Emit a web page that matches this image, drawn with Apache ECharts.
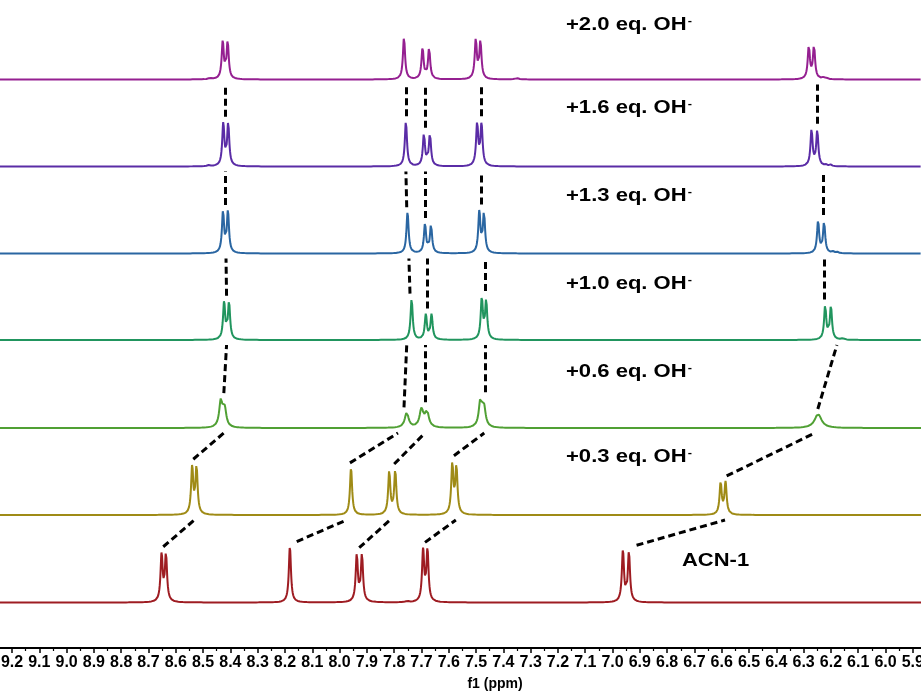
<!DOCTYPE html>
<html>
<head>
<meta charset="utf-8">
<script src="https://cdn.jsdelivr.net/npm/echarts@6/dist/echarts.min.js"></script>
<style>html,body{margin:0;padding:0;background:#fff;}#c{width:921px;height:691px;}</style>
</head>
<body>
<div id="c"></div>
<script>
// ---------- axis tick labels (ppm) ----------
const majorTicks = [9.2, 9.1, 9.0, 8.9, 8.8, 8.7, 8.6, 8.5, 8.4, 8.3, 8.2, 8.1, 8.0, 7.9, 7.8, 7.7, 7.6, 7.5, 7.4, 7.3, 7.2, 7.1, 7.0, 6.9, 6.8, 6.7, 6.6, 6.5, 6.4, 6.3, 6.2, 6.1, 6.0, 5.9];
const minorTicks = [9.15, 9.05, 8.95, 8.85, 8.75, 8.65, 8.55, 8.45, 8.35, 8.25, 8.15, 8.05, 7.95, 7.85, 7.75, 7.65, 7.55, 7.45, 7.35, 7.25, 7.15, 7.05, 6.95, 6.85, 6.75, 6.65, 6.55, 6.45, 6.35, 6.25, 6.15, 6.05, 5.95];

// ---------- spectra (bottom to top) ----------
const spectrumNames = ['ACN-1', '+0.3 eq. OH', '+0.6 eq. OH', '+1.0 eq. OH', '+1.3 eq. OH', '+1.6 eq. OH', '+2.0 eq. OH'];

// peak tables: [shift ppm, intensity, half width ppm]
const peaksACN1 = [
  [8.652, 47, 0.0047], [8.636, 47, 0.0047],
  [8.182, 56, 0.0047],
  [7.937, 47, 0.0047], [7.918, 47, 0.0047],
  [7.694, 51, 0.0047], [7.678, 51, 0.0047],
  [6.962, 51, 0.0047], [6.940, 50, 0.0047],
  [7.752, 1, 0.006]
];
const peaksEq03 = [
  [8.540, 47, 0.0047], [8.524, 47, 0.0047],
  [7.958, 47, 0.0047],
  [7.818, 43, 0.0047], [7.796, 44, 0.0047],
  [7.587, 50, 0.0047], [7.572, 47, 0.0047],
  [6.604, 32, 0.0047], [6.586, 32, 0.0047]
];
const peaksEq06 = [
  [8.435, 26, 0.0072], [8.421, 18, 0.0072],
  [7.754, 15, 0.0085],
  [7.700, 18, 0.0082], [7.680, 16, 0.0082],
  [7.484, 26, 0.0072], [7.471, 19, 0.0072],
  [6.247, 14, 0.015]
];
const peaksEq10 = [
  [8.423, 37, 0.0047], [8.405, 37, 0.0047],
  [7.736, 41, 0.0047],
  [7.684, 25, 0.0047], [7.663, 25, 0.0047],
  [7.479, 41, 0.0047], [7.463, 38, 0.0047],
  [6.221, 34, 0.0047], [6.200, 33, 0.0047],
  [6.156, 1.5, 0.006]
];
const peaksEq13 = [
  [8.427, 41, 0.0047], [8.409, 41, 0.0047],
  [7.751, 41, 0.0047],
  [7.687, 29, 0.0047], [7.665, 28, 0.0047],
  [7.488, 41, 0.0047], [7.471, 40, 0.0047],
  [6.247, 32, 0.0047], [6.225, 31, 0.0047],
  [6.193, 1.5, 0.005], [6.178, 1.5, 0.005]
];
const peaksEq16 = [
  [8.426, 42, 0.0047], [8.408, 42, 0.0047],
  [7.757, 45, 0.0047],
  [7.691, 32, 0.0047], [7.669, 32, 0.0047],
  [7.496, 42, 0.0047], [7.480, 41, 0.0047],
  [6.271, 36, 0.0047], [6.250, 35, 0.0047],
  [6.219, 1.5, 0.005], [6.201, 1.5, 0.005],
  [8.480, 1, 0.006]
];
const peaksEq20 = [
  [8.428, 37, 0.0047], [8.410, 37, 0.0047],
  [7.764, 42, 0.0047],
  [7.696, 31, 0.0047], [7.672, 31, 0.0047],
  [7.501, 39, 0.0047], [7.484, 37, 0.0047],
  [6.281, 33, 0.0047], [6.262, 33, 0.0047],
  [6.230, 1.5, 0.005], [6.217, 1.5, 0.005],
  [7.350, 1.2, 0.008], [8.475, 1.2, 0.006]
];
const spectraPeaks = [peaksACN1, peaksEq03, peaksEq06, peaksEq10, peaksEq13, peaksEq16, peaksEq20];

// dashed correlation lines: for each tracked proton, [shift in lower spectrum, shift in upper spectrum]
const trackA = [[8.646, 8.532], [8.536, 8.424], [8.424, 8.414], [8.414, 8.416], [8.420, 8.420], [8.420, 8.420]];
const trackB = [[8.157, 7.974], [7.962, 7.786], [7.764, 7.754], [7.742, 7.746], [7.754, 7.757], [7.757, 7.757]];
const trackC = [[7.928, 7.815], [7.800, 7.687], [7.687, 7.687], [7.679, 7.679], [7.687, 7.687], [7.687, 7.687]];
const trackD = [[7.687, 7.574], [7.581, 7.470], [7.467, 7.467], [7.467, 7.467], [7.482, 7.482], [7.482, 7.482]];
const trackE = [[6.912, 6.588], [6.582, 6.259], [6.248, 6.178], [6.226, 6.226], [6.229, 6.229], [6.249, 6.249]];
const tracks = [trackA, trackB, trackC, trackD, trackE];

// ---------- layout ----------
const axisMin = 5.870, axisMax = 9.244;
const stackOffsets = [45.5, 133, 220, 308, 394.5, 481.5, 568.5];
const colors = ['#9E1C22', '#9F8B16', '#50A034', '#21955E', '#2A66A2', '#5A2CA6', '#952091'];
const labelY = [null, 457, 372, 284, 196, 108, 25];
const step = 0.0007;

function shape(peaks, x) {
  let s = 0;
  for (const [c, h, w] of peaks) { const d = (x - c) / w; s += h / (1 + d * d); }
  return s;
}
function buildSeriesData(peaks, off) {
  const out = [];
  const n = Math.ceil((axisMax - axisMin) / step);
  for (let i = 0; i <= n; i++) {
    const x = axisMax - i * step;
    out.push([x, off + shape(peaks, x)]);
  }
  return out;
}
function topNear(peaks, ppm) {
  let m = 0;
  for (let x = ppm - 0.03; x <= ppm + 0.03; x += 0.0004) m = Math.max(m, shape(peaks, x));
  return m;
}

const series = spectraPeaks.map((pk, i) => ({
  type: 'line', name: spectrumNames[i], data: buildSeriesData(pk, stackOffsets[i]),
  showSymbol: false, symbol: 'none', silent: true, animation: false,
  lineStyle: { color: colors[i], width: 2 }, z: 2
}));

const connectorData = [];
tracks.forEach(tr => tr.forEach(([from, to], i) => {
  connectorData.push({ coords: [[from, stackOffsets[i] + topNear(spectraPeaks[i], from) + 5], [to, stackOffsets[i + 1] - 5]] });
}));
series.push({
  type: 'lines', coordinateSystem: 'cartesian2d', polyline: false, silent: true, animation: false,
  data: connectorData, z: 5,
  lineStyle: { color: '#000', width: 3, type: [7, 4], opacity: 1, curveness: 0, cap: 'butt' }
});

const FONT = '"Liberation Sans", Arial, sans-serif';
const graphics = [];
for (let i = 1; i < spectrumNames.length; i++) {
  graphics.push({
    type: 'text', x: 566, y: labelY[i], scaleX: 1.16, silent: true,
    style: {
      text: '{a|' + spectrumNames[i] + '}{s|-}',
      verticalAlign: 'middle', align: 'left',
      rich: {
        a: { fontSize: 19, fontWeight: 'bold', fontFamily: FONT, fill: '#000', lineHeight: 22 },
        s: { fontSize: 11, fontWeight: 'bold', fontFamily: FONT, fill: '#000', verticalAlign: 'top', lineHeight: 12, padding: [1, 0, 0, 1] }
      }
    }
  });
}
graphics.push({
  type: 'text', x: 682, y: 561, scaleX: 1.22, silent: true,
  style: { text: spectrumNames[0], fontSize: 18, fontWeight: 'bold', fontFamily: FONT, fill: '#000', verticalAlign: 'middle', align: 'left' }
});
graphics.push({
  type: 'text', x: 495, y: 684, silent: true,
  style: { text: 'f1 (ppm)', fontSize: 14, fontWeight: 'bold', fontFamily: FONT, fill: '#000', verticalAlign: 'middle', align: 'center' }
});

const chart = echarts.init(document.getElementById('c'), null, { renderer: 'canvas' });
chart.setOption({
  animation: false,
  backgroundColor: '#fff',
  grid: { left: 0, right: 0, top: 0, bottom: 43, containLabel: false, outerBoundsMode: 'none' },
  xAxis: [
    {
      type: 'value', inverse: true, min: axisMin, max: axisMax, position: 'bottom',
      splitLine: { show: false },
      axisLine: { show: true, onZero: false, lineStyle: { color: '#000', width: 2 } },
      axisTick: { show: true, customValues: majorTicks, length: 5, lineStyle: { color: '#000', width: 1.5 } },
      axisLabel: {
        show: true, customValues: majorTicks, margin: 7, color: '#000', fontSize: 16, fontWeight: 'bold',
        fontFamily: FONT, formatter: v => Number(v).toFixed(1), hideOverlap: false
      }
    },
    {
      type: 'value', inverse: true, min: axisMin, max: axisMax, position: 'bottom',
      splitLine: { show: false },
      axisLine: { show: false, onZero: false },
      axisTick: { show: true, customValues: minorTicks, length: 3, lineStyle: { color: '#000', width: 1.2 } },
      axisLabel: { show: false }
    }
  ],
  yAxis: { type: 'value', min: 0, max: 648, show: false },
  series: series,
  graphic: graphics
});
</script>
</body>
</html>
